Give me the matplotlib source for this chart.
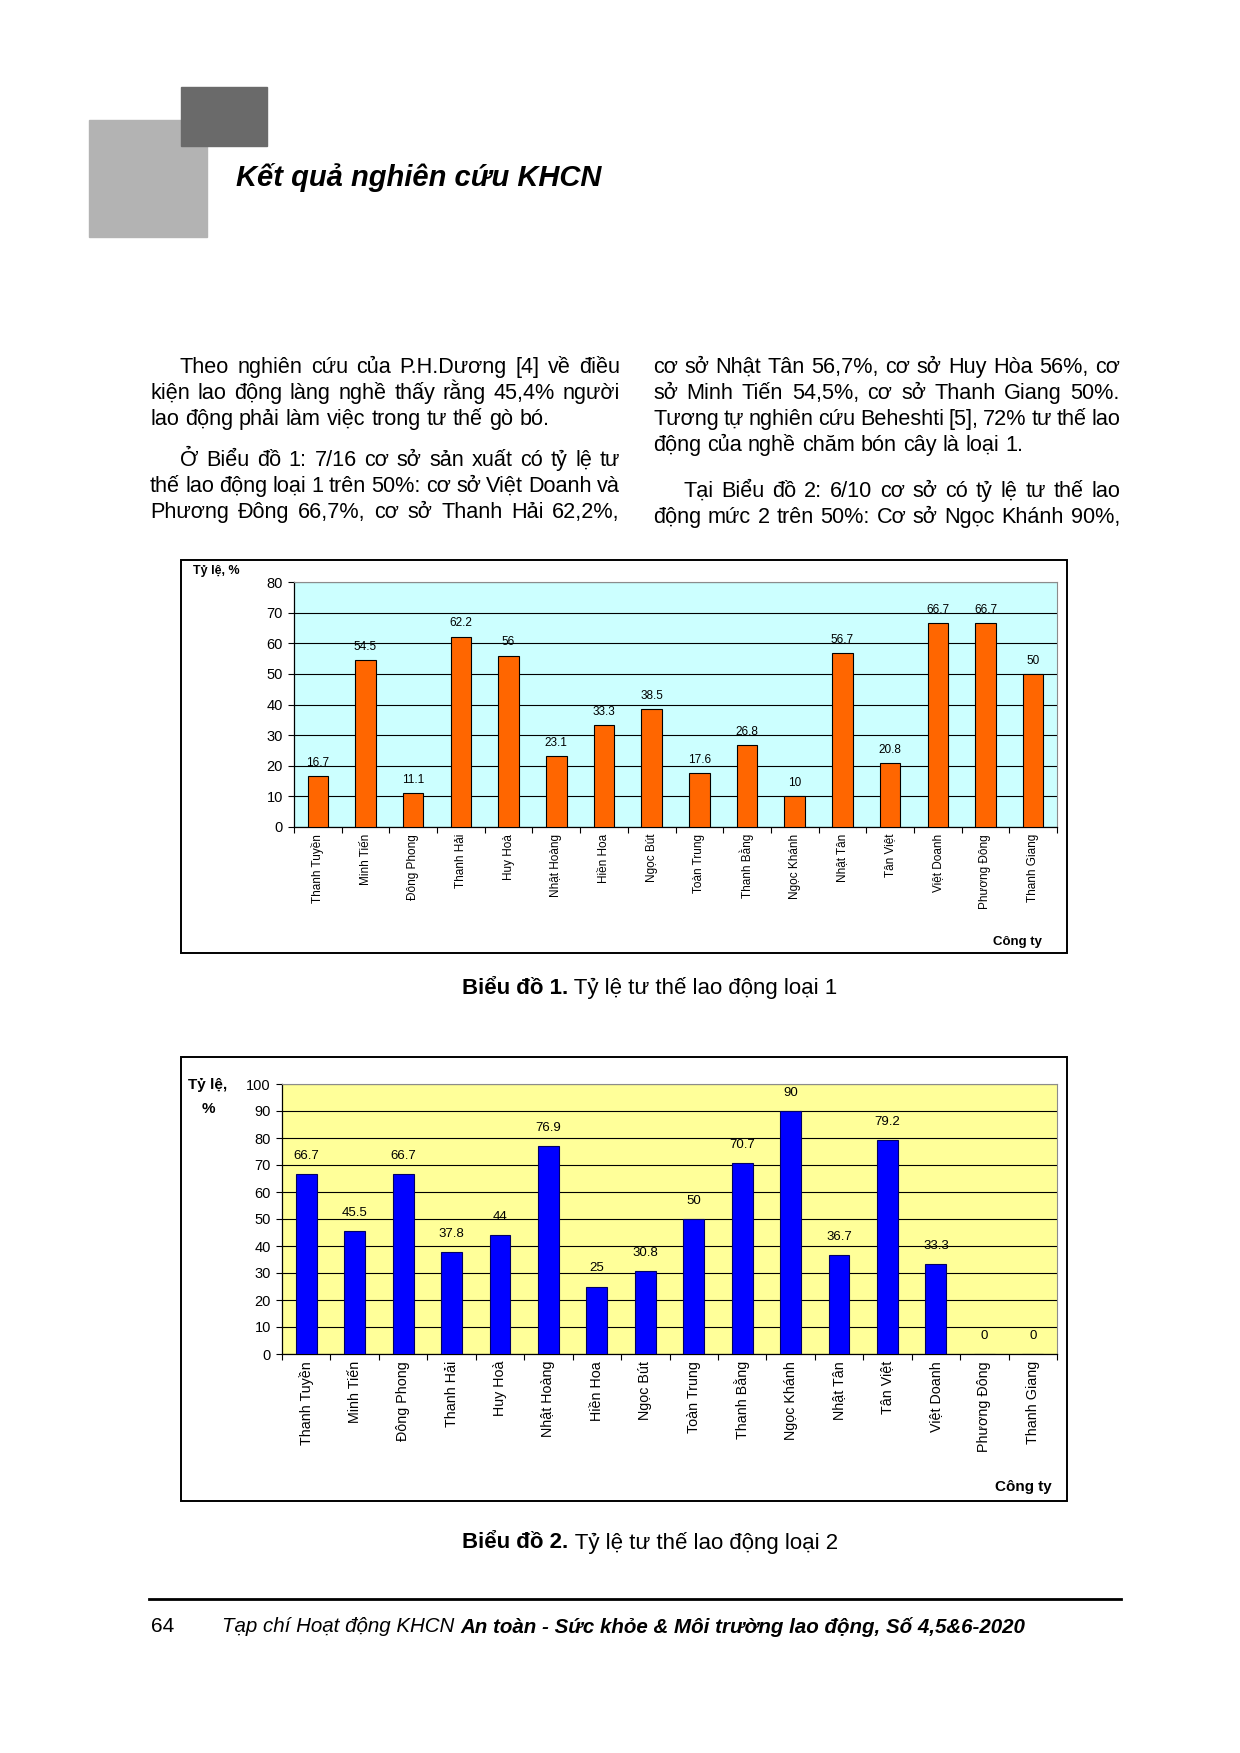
import matplotlib
matplotlib.use("Agg")
import matplotlib.pyplot as plt
import numpy as np
from matplotlib.patches import Rectangle
from matplotlib.lines import Line2D

plt.rcParams["font.family"] = ["Liberation Sans", "DejaVu Sans"]

# %%
# Data

companies = ["Thanh Tuyền", "Minh Tiến", "Đông Phong", "Thanh Hải", "Huy Hoà",
             "Nhật Hoàng", "Hiền Hoa", "Ngọc Bút", "Toàn Trung", "Thanh Bằng",
             "Ngọc Khánh", "Nhật Tân", "Tân Việt", "Việt Doanh", "Phương Đông",
             "Thanh Giang"]
posture_1 = [16.7, 54.5, 11.1, 62.2, 56, 23.1, 33.3, 38.5, 17.6, 26.8, 10, 56.7,
             20.8, 66.7, 66.7, 50]
posture_2 = [66.7, 45.5, 66.7, 37.8, 44, 76.9, 25, 30.8, 50, 70.7, 90, 36.7,
             79.2, 33.3, 0, 0]

left_col = [
    ("Theo nghiên cứu của P.H.Dương [4] về điều", True, True),
    ("kiện lao động làng nghề thấy rằng 45,4% người", False, True),
    ("lao động phải làm việc trong tư thế gò bó.", False, False),
    ("Ở Biểu đồ 1: 7/16 cơ sở sản xuất có tỷ lệ tư", True, True),
    ("thế lao động loại 1 trên 50%: cơ sở Việt Doanh và", False, True),
    ("Phương Đông 66,7%, cơ sở Thanh Hải 62,2%,", False, True),
]
right_col = [
    ("cơ sở Nhật Tân 56,7%, cơ sở Huy Hòa 56%, cơ", False, True),
    ("sở Minh Tiến 54,5%, cơ sở Thanh Giang 50%.", False, True),
    ("Tương tự nghiên cứu Beheshti [5], 72% tư thế lao", False, True),
    ("động của nghề chăm bón cây là loại 1.", False, False),
    ("Tại Biểu đồ 2: 6/10 cơ sở có tỷ lệ tư thế lao", True, True),
    ("động mức 2 trên 50%: Cơ sở Ngọc Khánh 90%,", False, True),
]
left_y = [373, 399, 425, 466, 492, 518]
right_y = [373, 399, 425, 451, 497, 523]

W, H = 1240, 1753
fig = plt.figure(figsize=(W / 100, H / 100), dpi=100)
fig.patch.set_facecolor("white")
r = fig.canvas.get_renderer()


def fx(x):
    return x / W


def fy(y):
    return 1 - y / H


def put_line(text, x0, x1, y, justify, size=15.6):
    words = text.split(" ")
    objs = [fig.text(0, fy(y), w, fontsize=size, va="baseline") for w in words]
    widths = [t.get_window_extent(r).width for t in objs]
    if justify and len(words) > 1:
        gap = (x1 - x0 - sum(widths)) / (len(words) - 1)
    else:
        gap = 0.278 * size * 100 / 72
    x = x0
    for t, w in zip(objs, widths):
        t.set_x(fx(x))
        x += w + gap


def put_runs(runs, xc, y, size):
    # runs of (text, weight, style) centred on xc
    objs = [fig.text(0, fy(y), s, fontsize=size, fontweight=wt, fontstyle=st,
                     va="center") for s, wt, st in runs]
    widths = [t.get_window_extent(r).width for t in objs]
    x = xc - sum(widths) / 2 if xc is not None else 0
    return objs, widths, x


def place(objs, widths, x):
    for t, w in zip(objs, widths):
        t.set_x(fx(x))
        x += w


# header blocks and title
fig.patches.append(Rectangle((fx(89), fy(237)), fx(207) - fx(89), fy(120) - fy(237),
                             transform=fig.transFigure, color="#b3b3b3", zorder=0))
fig.patches.append(Rectangle((fx(181), fy(146)), fx(267) - fx(181), fy(87) - fy(146),
                             transform=fig.transFigure, color="#6a6a6a", zorder=1))
fig.text(fx(236), fy(177), "Kết quả nghiên cứu KHCN", fontsize=21,
         fontweight="bold", fontstyle="italic", va="center")

# body text
for (txt, indent, just), y in zip(left_col, left_y):
    put_line(txt, 180 if indent else 150, 620, y, just)
for (txt, indent, just), y in zip(right_col, right_y):
    put_line(txt, 683 if indent else 653, 1120, y, just)


def chart(box, area, values, bg, bar_color, edge, tick_fs, lab_fs, val_fs,
          val_off, ymax, ystep):
    fig.patches.append(Rectangle((fx(box[0]), fy(box[3])), fx(box[2]) - fx(box[0]),
                                 fy(box[1]) - fy(box[3]), transform=fig.transFigure,
                                 fill=False, edgecolor="black", linewidth=1.4))
    l, t, rr, b = area
    ax = fig.add_axes([fx(l), fy(b), fx(rr) - fx(l), fy(t) - fy(b)])
    ax.set_facecolor(bg)
    x = np.arange(len(companies))
    ax.bar(x, values, width=0.43, color=bar_color, edgecolor=edge, linewidth=0.8,
           zorder=3)
    for xi, v in zip(x, values):
        ax.annotate(f"{v:g}", (xi, v), xytext=(0, val_off), textcoords="offset points",
                    ha="center", va="center", fontsize=val_fs, zorder=4)
    ax.set_xlim(-0.5, len(companies) - 0.5)
    ax.set_ylim(0, ymax)
    ax.set_yticks(np.arange(0, ymax + 1, ystep))
    ax.yaxis.grid(True, color="black", linewidth=0.8)
    ax.set_axisbelow(True)
    ax.set_xticks(x)
    ax.set_xticklabels(companies, rotation=90, fontsize=lab_fs)
    ax.set_xticks(np.arange(-0.5, len(companies)), minor=True)
    ax.tick_params(axis="x", which="major", length=0, pad=5)
    ax.tick_params(axis="x", which="minor", length=4, direction="out", width=0.8)
    ax.tick_params(axis="y", length=4, direction="out", width=0.8, labelsize=tick_fs,
                   pad=4)
    for s in ("top", "right"):
        ax.spines[s].set_color("#8c8c8c")
        ax.spines[s].set_linewidth(0.8)
    for s in ("left", "bottom"):
        ax.spines[s].set_color("black")
        ax.spines[s].set_linewidth(0.9)
    return ax


chart((181, 560, 1067, 953), (294, 582, 1057, 827), posture_1, "#ccffff", "#ff6600",
      "black", 10.5, 8.5, 8.5, 9.5, 80, 10)
fig.text(fx(193), fy(571), "Tỷ lệ, %", fontsize=9, fontweight="bold", va="center")
fig.text(fx(1042), fy(942), "Công ty", fontsize=9.5, fontweight="bold", va="center",
         ha="right")

chart((181, 1057, 1067, 1501), (282, 1084, 1057, 1354), posture_2, "#ffff99",
      "#0000ff", "#000066", 10.5, 10.3, 9.5, 13, 100, 10)
fig.text(fx(208), fy(1085), "Tỷ lệ,", fontsize=11, fontweight="bold", va="center",
         ha="center")
fig.text(fx(208), fy(1109), "%", fontsize=11, fontweight="bold", va="center",
         ha="center")
fig.text(fx(1052), fy(1487), "Công ty", fontsize=11, fontweight="bold", va="center",
         ha="right")

# captions
for y, num in ((988, "1"), (1543, "2")):
    objs, widths, x = put_runs([(f"Biểu đồ {num}.", "bold", "normal"),
                                (f" Tỷ lệ tư thế lao động loại {num}", "normal",
                                 "normal")], 650, y, 16)
    place(objs, widths, x)

# footer
fig.add_artist(Line2D([fx(149), fx(1121)], [fy(1599), fy(1599)], color="black",
                      linewidth=2, transform=fig.transFigure))
fig.text(fx(151), fy(1627), "64", fontsize=15, va="center")
objs, widths, _ = put_runs([("Tạp chí Hoạt động KHCN ", "normal", "italic"),
                            ("An toàn - Sức khỏe & Môi trường lao động, Số 4,5&6-2020",
                             "bold", "italic")], None, 1627, 14.8)
place(objs, widths, 222)

fig.savefig("out.png", dpi=100)
